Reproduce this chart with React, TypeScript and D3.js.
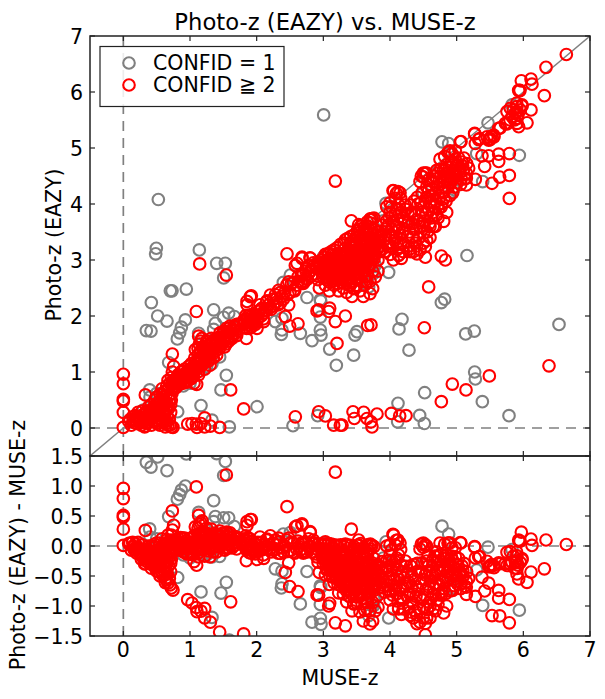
import React from "react";
import * as d3 from "d3";

const grayPoints: [number, number][] = [
[.525,4.08],[3.005,5.59],[.495,3.21],[.485,3.11],[1.14,3.18],[1.4,2.94],[1.53,2.94],[1.505,2.68],[.705,2.45],[.73,2.45],[.945,2.48],[.42,2.24],[.515,2],[.655,1.91],[.93,1.93],[.87,1.8],[.845,1.7],[.81,1.59],[.345,1.74],[.415,1.73],[1.355,2.11],[1.58,2.05],[1.665,1.99],[1.505,1.976],[1.38,1.87],[1.355,1.76],[1.13,1.69],[.68,1.17],[1.33,1.15],[1.445,1.27],[1.545,.94],[1.465,.68],[1.165,.4],[.815,.29],[2.005,.38],[1.33,.14],[1.59,.02],[2.545,.04],[2.915,.22],[.395,.68],[2.505,2.73],[2.755,2.33],[2.955,2.29],[2.955,1.98],[2.28,1.9],[2.38,1.96],[2.37,1.67],[2.38,1.75],[2.655,1.69],[2.83,1.56],[2.955,1.75],[2.965,1.66],[3.095,1.41],[3.195,1.12],
[5.155,3.08],[3.98,2.78],[3.755,2.88],[3.755,2.76],[3.68,2.52],[4.82,2.3],[4.77,2.24],[4.18,1.94],[4.135,1.77],[3.505,1.72],[3.475,1.66],[3.455,1.3],[4.285,1.39],[5.135,1.68],[5.265,1.73],[6.535,1.85],[5.27,1],[5.28,.875],[5.385,.47],[5.785,.22],[4.52,.63],[4.12,.44],[4.115,.11],[4.445,.225],[4.515,.08],
[5.47,5.45],[4.78,5.11],[4.88,5.08],[5.94,4.87],[5.39,4.4],[3.94,4.01],[4.955,4.26],[4.93,4.22],[5.83,5.77],[3.78,2.91],[3.73,2.75],[2.96,2.27],[.3,.32],[.4,.55],[.5,.62],[.6,.45],[.9,.75],[1.0,.8],[1.2,1.05],[1.25,1.1],[1.4,1.55],[2.4,2.6],[3.0,3.05],[3.25,3.1],[3.5,3.4],[3.9,3.7],[4.2,3.75],[4.5,4.2],[4.9,4.4],[5.3,4.9]
];

const redOutliers: [number, number][] = [
[0,.96],[0,.79],[0,.51],[0,.48],[0,.28],[0,.01],[.33,.59],[.735,1.32],[.755,1.1],[.735,1],[1.095,2.08],[1.145,2.93],[1.545,2.73],[1.13,1.64],[1.61,.68],[1.805,.34],[2.58,.2],[2.93,.29],[3.03,.215],[3.155,.05],[3.255,.05],
[.965,.07],[1.03,.08],[1.095,.07],[1.105,.01],[1.165,.08],[1.22,.02],[1.22,.18],[1.305,.035],[1.445,.01],[.33,.035],[.745,.01],
[1.855,2.26],[1.905,2.345],[1.92,2.36],[1.855,2.2],[2.055,2.11],[2.155,2.27],[2.205,2.375],[2.33,2.46],[2.305,2.32],[2.355,2.23],[2.48,2.61],[2.455,3.11],[2.605,2.94],[2.68,3.03],[2.805,3.03],[2.78,2.76],[2.68,2.58],[2.555,2.46],[2.48,2.2],[2.43,1.99],[2.495,1.82],[2.62,1.86],[2.93,2.11],[3.095,2.14],[3.08,2.08],[3.18,1.9],[3.205,1.51],[1.845,1.6],[2.005,1.78],[2.105,1.9],[2.08,2.14],
[3.28,.05],[3.445,.29],[3.465,.17],[3.605,.28],[3.655,.17],[3.715,.11],[3.73,.02],[3.805,.25],[4.02,.26],[4.145,.215],[4.24,.22],[4.77,.47],[4.935,.785],[5.14,.68],[5.49,.93],[6.385,1.11],[4.515,1.79],[3.665,1.83],[3.715,1.84],[3.33,2],[4.58,2.52],[3.74,2.49],[3.655,2.61],[3.43,2.35],[3.455,2.49],[4.77,3.07],[4.83,3],[4.53,3.05],[4.53,3.24],[4.405,3.11],[4.17,3.03],[4.13,3.09],[4.305,3.15],[3.98,3.24],
[6.645,6.67],[6.34,6.44],[6.315,5.935],[5.97,6.2],[6.115,6.23],[6.13,6.14],[5.94,6.02],[5.95,6.03],[6.115,5.68],[6.055,5.45],[5.38,4.86],[5.48,4.86],[5.63,4.89],[5.79,4.9],[5.63,4.76],[5.42,4.67],[5.79,4.51],[5.645,4.48],[5.53,4.37],[5.28,4.44],[5.145,4.34],[5.79,4.1],[5.145,4.46],[5.18,4.64],[5.145,4.55],[3.42,3.7],[4.045,4.24],[4.095,4.19],[3.73,3.74],[4.805,3.69],[4.68,3.6],[4.78,4.01],[4.505,3.48],[3.18,4.41]
];

const redTopEnd: [number, number][] = [
[5.805,5.71],[5.905,5.74],[5.98,5.77],[5.755,5.65],[5.83,5.56],[5.905,5.53],[5.955,5.68],[5.73,5.44],[5.93,5.38],[5.905,5.44],[5.63,5.35],[5.88,5.62],[5.9,5.8],[5.555,5.23],[5.505,5.17],[5.455,5.2],[5.27,5.25],[5.345,5.17],[5.28,5.08],[5.055,5.11],[4.88,4.93],[5.5,5.15],[5.56,5.2],[5.655,5.36],[5.755,5.43],[5.9,5.65],[5.93,6.03],[5.98,5.75],[5.27,5.26],[5.33,5.15],[5.065,5.115],[5.85,5.68],[5.87,5.5],[5.8,5.5],[5.92,5.6],[5.48,5.14],[5.52,5.21]
];

const redLowBlob: [number, number][] = [
[.08,.12],[.1,.15],[.12,.05],[.14,.2],[.16,.1],[.18,.22],[.2,.08],[.2,.18],[.22,.28],[.24,.12],[.25,.2],[.27,.05],[.28,.3],[.3,.14],[.3,.24],[.32,.02],[.35,.18],[.35,.3],[.37,.1],[.38,.38],[.4,.14],[.4,.25],[.42,.05],[.42,.42],[.44,.2],[.45,.32],[.47,.12],[.47,.5],[.48,.25],[.5,.08],[.5,.35],[.5,.55],[.52,.18],[.52,.45],[.54,.28],[.55,.05],[.55,.6],[.57,.15],[.57,.4],[.58,.7],[.6,.1],[.6,.3],[.6,.55],[.62,.2],[.62,.65],[.63,.02],[.65,.12],[.65,.45],[.65,.75],[.67,.05],[.67,.85],[.68,.35],[.7,.05],[.7,.6],[.7,.8],[.72,.02],[.72,.9],[.72,.5],[.74,.7],[.75,.85],
[.15,.14],[.19,.13],[.23,.2],[.26,.15],[.29,.1],[.31,.19],[.33,.27],[.34,.09],[.36,.22],[.39,.17],[.41,.32],[.43,.12],[.44,.28],[.46,.2],[.46,.38],[.49,.14],[.49,.3],[.51,.25],[.51,.42],[.53,.1],[.53,.35],[.56,.22],[.56,.5],[.58,.12],[.59,.38],[.59,.6],[.61,.25],[.61,.48],[.64,.08],[.64,.32],[.64,.58],[.66,.2],[.66,.68],[.69,.15],[.69,.5],[.69,.72],[.71,.28],[.71,.42],[.73,.62],[.73,.8],[.66,.4],[.62,.42]
];

const redMidBand: [number, number][] = [
[.76,.7],[.78,.8],[.8,.75],[.8,.9],[.82,.95],[.84,.78],[.85,.85],[.86,1],[.88,.9],[.9,.8],[.9,.95],[.92,1.05],[.94,.9],[.95,1],[.96,.85],[.98,1.1],[1,.95],[1,1.05],[1.02,.88],[1.02,1.15],[1.04,1],[1.05,1.1],[1.06,.8],[1.07,1.25],[1.08,1.05],[1.08,1.4],[1.1,1.15],[1.1,.78],[1.12,1.3],[1.12,1],[1.14,1.5],[1.14,1.2],[1.16,1.1],[1.16,1.38],[1.18,1.25],[1.18,1.6],[1.2,1.35],[1.2,1.15],[1.22,1.45],[1.25,1.3],[1.25,1.55],[1.28,1.4],[1.28,1.2],[1.3,1.5],[1.3,1.3],[1.32,1.6],[1.35,1.4],[1.35,1.25],[1.38,1.5],[1.4,1.6],[1.42,1.45],[1.45,1.55],[1.45,1.7],[1.48,1.5],[1.5,1.6],[1.5,1.72],[1.52,1.45],[1.55,1.65],[1.55,1.78],[1.58,1.55],[1.6,1.7],[1.6,1.82],[1.63,1.6],[1.65,1.75],[1.68,1.8],[1.7,1.65],[1.72,1.85],
[.77,.85],[.79,.72],[.81,.83],[.83,.88],[.86,.8],[.87,.93],[.89,1.02],[.91,.88],[.93,.97],[.95,.82],[.97,.95],[.99,1.02],[1.01,.9],[1.03,1.07],[1.05,.92],[1.07,1.02],[1.09,1.18],[1.11,1.08],[1.13,.95],[1.15,1.25],[1.15,1.35],[1.17,1.18],[1.19,1.42],[1.21,1.26],[1.23,1.38],[1.24,1.2],[1.26,1.46],[1.27,1.32],[1.29,1.25],[1.31,1.42],[1.33,1.52],[1.34,1.32],[1.36,1.46],[1.37,1.58],[1.39,1.38],[1.41,1.52],[1.43,1.62],[1.44,1.42],[1.46,1.62],[1.47,1.5],[1.49,1.68],[1.51,1.55],[1.53,1.65],[1.54,1.5],[1.56,1.72],[1.57,1.6],[1.59,1.78],[1.61,1.62],[1.62,1.75],[1.64,1.68],[1.66,1.82],[1.67,1.68],[1.69,1.75],[1.7,1.85],[1.22,1.05],[1.3,1.12],[1.4,1.3],[1.12,1.42],[1.16,1.55],
[1.8,1.85],[1.82,1.9],[1.85,1.95],[1.85,1.78],[1.87,2],[1.88,1.85],[1.9,1.92],[1.9,2.02],[1.92,1.8],[1.94,1.95],[1.95,1.88],[1.97,2],[2,2.02],[2,1.9],[1.83,1.8],[1.86,1.88],[1.89,1.78],[1.91,1.98],[1.93,1.88],[1.96,1.94],[1.98,1.85],[2.02,1.96],[1.81,1.93],[1.84,2.01],
[2.05,2.2],[2.1,2.05],[2.1,1.95],[2.15,2.25],[2.2,2.15],[2.25,2.3],[2.3,2.25],[2.35,2.42],[2.4,2.3],[2.45,2.55],[2.5,2.42],[2.55,2.6],[2.6,2.55],[2.62,2.7],[2.66,2.6],[2.7,2.75],[2.72,2.62],[2.78,2.9],[2.8,2.8],[2.85,2.95],[2.88,2.75],[2.9,2.85],[2.92,2.65],[2.94,2.5],[2.905,2.09],[2.68,3.05],[2.8,3.04],[2.58,2.9],
[2.12,2.1],[2.18,2.2],[2.22,2.12],[2.28,2.38],[2.32,2.2],[2.38,2.35],[2.42,2.42],[2.47,2.38],[2.52,2.58],[2.57,2.45],[2.63,2.62],[2.67,2.72],[2.7,2.58],[2.74,2.8],[2.76,2.66],[2.82,2.72],[2.84,2.88],[2.87,2.92],[2.9,2.72],[2.92,2.95],[2.25,2.18],[2.15,2.1],[2.02,2.08],[2.07,2]
];

const redCluster3: [number, number][] = [
[2.97,3],[2.98,2.85],[3,2.95],[3,2.7],[3.02,3.05],[3.02,2.8],[3.03,2.55],[3.05,2.95],[3.05,2.65],[3.06,2.85],[3.07,3.1],[3.08,2.75],[3.09,2.45],[3.1,3],[3.1,2.6],[3.12,2.85],[3.12,2.7],[3.14,3.1],[3.15,2.9],[3.16,2.55],[3.17,2.75],[3.18,3.05],[3.2,2.65],[3.2,2.85],[3.22,2.95],[3.23,2.45],[3.24,3.12],[3.25,2.75],[3.27,2.9],[3.28,2.6],[3.3,3.05],[3.3,2.8],[3.32,3.2],[3.33,2.65],[3.34,2.95],[3.36,2.85],[3.37,3.15],[3.38,2.7],[3.4,3.05],[3.4,2.55],[3.42,2.9],[3.44,3.25],[3.45,2.75],[3.46,3.05],[3.48,2.95],[3.5,3.3],[3.5,2.85],[3.5,2.65],[3.52,3.15],[3.53,3.55],[3.54,2.95],[3.56,3.25],[3.57,2.75],[3.58,3.05],[3.6,3.4],[3.6,2.9],[3.62,3.15],[3.63,2.7],[3.64,3.3],[3.65,3],[3.66,3.5],[3.68,2.85],[3.7,3.2],[3.7,3.4],[3.7,3.72],[3.72,3],[3.74,3.3],[3.75,3.1],[3.76,3.55],[3.78,3.25],[3.8,3.4],[3.82,3],[3.84,3.5],[3.86,3.25],[3.88,3.62],[3.9,3.35],[3.53,3.63],[3.33,3.36],[3.705,3.735],
[2.96,2.92],[2.99,2.78],[3.01,2.88],[3.03,2.98],[3.04,2.75],[3.06,2.92],[3.07,2.68],[3.08,3.02],[3.09,2.8],[3.11,2.92],[3.11,2.72],[3.13,2.98],[3.13,2.78],[3.14,2.62],[3.15,3.02],[3.16,2.82],[3.17,2.95],[3.18,2.68],[3.19,2.88],[3.21,3.02],[3.21,2.75],[3.22,2.58],[3.23,2.88],[3.24,2.68],[3.26,3],[3.26,2.82],[3.27,2.72],[3.28,3.1],[3.29,2.92],[3.31,2.72],[3.31,2.95],[3.32,3.05],[3.33,2.85],[3.35,3.12],[3.35,2.78],[3.36,3],[3.38,2.92],[3.39,3.18],[3.39,2.82],[3.41,2.68],[3.41,3.12],[3.43,3],[3.43,2.82],[3.45,3.15],[3.45,2.92],[3.47,2.82],[3.47,3.22],[3.49,3.08],[3.49,2.75],[3.51,2.95],[3.51,3.4],[3.53,2.85],[3.53,3.22],[3.55,3.08],[3.55,3.42],[3.56,2.85],[3.57,3.15],[3.58,2.95],[3.59,3.3],[3.61,3.05],[3.61,2.8],[3.62,3.45],[3.63,3.25],[3.64,2.92],[3.65,3.12],[3.66,3.35],[3.67,3],[3.67,3.6],[3.68,3.22],[3.69,3.08],[3.7,2.92],[3.71,3.32],[3.72,3.15],[3.73,3.45],[3.74,3.05],[3.75,3.38],[3.76,3.22],[3.77,3.12],[3.78,3.45],[3.79,3.32],[3.8,3.18],[3.81,3.5],[3.83,3.35],[3.85,3.15],[3.87,3.45],[3.89,3.2],
[3,2.82],[3.04,2.88],[3.1,2.8],[3.15,2.72],[3.2,2.95],[3.25,2.88],[3.3,2.65],[3.35,2.95],[3.4,2.78],[3.44,2.95],[3.48,3.1],[3.52,2.75],[3.56,3],[3.6,3.18],[3.64,3.05],[3.68,3.4],[3.72,3.25],[3.76,3.02],
[3.03,3.1],[3.08,3.12],[3.12,3.15],[3.16,3.18],[3.21,3.22],[3.26,3.28],[3.31,3.3],[3.36,3.38],[3.41,3.42],[3.46,3.45],[3.51,3.52],[3.56,3.6],[3.61,3.58],[3.66,3.68],[3.71,3.66],[3.76,3.75],
[3.3,2.5],[3.35,2.6],[3.38,2.55],[3.42,2.62],[3.46,2.5],[3.5,2.55],[3.54,2.7],[3.58,2.62],[3.62,2.55],[3.66,2.72],[3.7,2.62],[3.74,2.8],[3.78,2.7],[3.82,2.8],[3.55,2.45],[3.35,2.42],[3.6,2.35],[3.7,2.4],
[3.6,3.5],[3.4,3.3],[3.45,3.35],[3.55,3.5],[3.65,3.55]
];

const redCluster4: [number, number][] = [
[3.92,3.15],[3.95,3.7],[3.98,3.45],[4,3.25],[4,3.85],[4.02,3.55],[4.05,3],[4.05,3.7],[4.07,3.35],[4.1,3.9],[4.1,3.6],[4.12,3.2],[4.15,3.45],[4.16,4.1],[4.18,3.75],[4.2,3.3],[4.22,3.55],[4.24,3.9],[4.26,3.42],[4.28,3.68],[4.3,3.2],[4.32,3.85],[4.35,3.55],[4.36,4.05],[4.38,3.3],[4.4,3.72],[4.42,4],[4.44,3.4],[4.45,3.6],[4.47,3.85],[4.48,4.2],[4.5,3.3],[4.5,4.55],[4.52,3.7],[4.53,4.05],[4.55,4.3],[4.56,3.5],[4.58,3.9],[4.6,4.15],[4.62,3.75],[4.64,4.4],[4.66,3.95],[4.68,4.2],[4.7,3.8],[4.72,4.55],[4.74,4.1],[4.75,4.35],[4.77,3.95],[4.8,4.6],[4.8,4.2],[4.82,4.45],[4.84,4.05],[4.85,4.7],[4.87,4.3],[4.88,4.55],[4.9,4.15],[4.92,4.75],[4.93,4.45],[4.95,4.6],[4.96,4.3],[4.98,4.8],[5,4.5],[5.02,4.7],[5.04,4.55],[5.06,4.35],[5.08,4.75],[5.1,4.6],[5.12,4.45],[5.15,4.72],[4.13,3.08],[4.53,4.55],[4.055,4.235],[4.12,4.22],
[3.93,3.55],[3.96,3.3],[3.97,3.62],[3.99,3.75],[4.01,3.42],[4.03,3.78],[4.04,3.22],[4.06,3.5],[4.08,3.82],[4.09,3.42],[4.11,3.72],[4.13,3.98],[4.14,3.58],[4.16,3.3],[4.17,3.85],[4.19,3.5],[4.21,3.68],[4.23,3.98],[4.25,3.62],[4.27,3.82],[4.29,3.5],[4.31,3.98],[4.33,3.65],[4.34,3.4],[4.37,3.82],[4.39,3.55],[4.41,4.12],[4.43,3.7],[4.46,4.02],[4.49,3.6],[4.51,3.95],[4.54,3.82],[4.55,4.12],[4.57,4.42],[4.59,3.65],[4.61,4.02],[4.63,4.28],[4.65,3.85],[4.67,4.5],[4.69,4.05],[4.71,4.3],[4.73,3.92],[4.76,4.5],[4.78,4.22],[4.79,4.4],[4.81,4.1],[4.83,4.62],[4.86,4.42],[4.89,4.65],[4.91,4.38],[4.94,4.2],[4.97,4.52],[4.99,4.68],[5.01,4.38],[5.03,4.82],[5.05,4.62],[5.07,4.45],[5.09,4.68],[5.11,4.82],[4.82,4.3],[4.86,4.55],[4.9,4.48],[4.94,4.7],[4.98,4.6],[4.76,4.62],[4.7,4.45],[4.64,4.15],[4.58,4.25],
[3.95,3.95],[4,4.02],[4.08,4.1],[4.15,4.2],[4.02,3.95],[4.45,4.4],[4.5,4.48],[4.55,4.55],[4.47,4.5],[4.75,4.8],[4.82,4.85],[4.87,4.92],[4.9,4.95],[4.93,4.9],[4.98,4.95],[4.7,4.6],
[4.1,3.3],[4.2,3.15],[4.28,3.25],[4.35,3.15],[4.4,3.25],[4.45,3.18],[4.6,3.6],[4.65,3.6],[4.72,3.75],[4.85,3.85],[4.6,3.4],[4.55,3.35],[4,3.1]
];

const redPoints = [...redOutliers, ...redTopEnd, ...redLowBlob, ...redMidBand, ...redCluster3, ...redCluster4];

const topTicks = [0, 1, 2, 3, 4, 5, 6, 7];
const bottomTicks = [-1.5, -1, -0.5, 0, 0.5, 1, 1.5];
const xTicks = [0, 1, 2, 3, 4, 5, 6, 7];
const xDomain: [number, number] = [-0.5, 7];
const topDomain: [number, number] = [-0.5, 7];
const bottomDomain: [number, number] = [-1.5, 1.5];
const GRAY = "#808080";
const RED = "#ff0000";
const FONT = "'DejaVu Sans', sans-serif";
const fmt = (v: number) => (v < 0 ? "\u2212" : "") + Math.abs(v).toFixed(1);

export default function App() {
  const L = 90, R = 590, T1 = 36, B1 = 456, T2 = 456, B2 = 636;
  const x = d3.scaleLinear().domain(xDomain).range([L, R]);
  const y1 = d3.scaleLinear().domain(topDomain).range([B1, T1]);
  const y2 = d3.scaleLinear().domain(bottomDomain).range([B2, T2]);
  const circle = (cx: number, cy: number, c: string, k: string) => (
    <circle key={k} cx={cx} cy={cy} r={5.8} fill="none" stroke={c} strokeWidth={2.1} />
  );
  const lineW = 1.2;
  return (
    <svg width={605} height={699} style={{ position: "fixed", left: 0, top: 0, background: "#fff" }} fontFamily={FONT}>
      <defs>
        <clipPath id="c1"><rect x={L} y={T1} width={R - L} height={B1 - T1} /></clipPath>
        <clipPath id="c2"><rect x={L} y={T2} width={R - L} height={B2 - T2} /></clipPath>
      </defs>
      <g clipPath="url(#c1)">
        <line x1={x(-0.5)} y1={y1(-0.5)} x2={x(7)} y2={y1(7)} stroke={GRAY} strokeWidth={1.4} />
        <line x1={x(0)} x2={x(0)} y1={T1} y2={B1} stroke={GRAY} strokeWidth={1.7} strokeDasharray="10 7" />
        <line x1={L} x2={R} y1={y1(0)} y2={y1(0)} stroke={GRAY} strokeWidth={1.7} strokeDasharray="10 7" />
        {grayPoints.map((p, i) => circle(x(p[0]), y1(p[1]), GRAY, "g" + i))}
        {redPoints.map((p, i) => circle(x(p[0]), y1(p[1]), RED, "r" + i))}
      </g>
      <g clipPath="url(#c2)">
        <line x1={x(0)} x2={x(0)} y1={T2} y2={B2} stroke={GRAY} strokeWidth={1.7} strokeDasharray="10 7" />
        <line x1={L} x2={R} y1={y2(0)} y2={y2(0)} stroke={GRAY} strokeWidth={1.7} strokeDasharray="10 7" />
        {grayPoints.map((p, i) => circle(x(p[0]), y2(p[1] - p[0]), GRAY, "g" + i))}
        {redPoints.map((p, i) => circle(x(p[0]), y2(p[1] - p[0]), RED, "r" + i))}
      </g>
      <rect x={L} y={T1} width={R - L} height={B1 - T1} fill="none" stroke="#222" strokeWidth={lineW + 0.3} />
      <rect x={L} y={T2} width={R - L} height={B2 - T2} fill="none" stroke="#222" strokeWidth={lineW + 0.3} />
      {topTicks.map((t) => (
        <g key={"yt" + t}>
          <line x1={L} x2={L + 5} y1={y1(t)} y2={y1(t)} stroke="#222" strokeWidth={lineW} />
          <line x1={R} x2={R - 5} y1={y1(t)} y2={y1(t)} stroke="#222" strokeWidth={lineW} />
          <text x={L - 7} y={y1(t) + 7.5} fontSize={20.5} textAnchor="end" fill="#000">{t}</text>
        </g>
      ))}
      {bottomTicks.map((t) => (
        <g key={"yb" + t}>
          <line x1={L} x2={L + 5} y1={y2(t)} y2={y2(t)} stroke="#222" strokeWidth={lineW} />
          <line x1={R} x2={R - 5} y1={y2(t)} y2={y2(t)} stroke="#222" strokeWidth={lineW} />
          <text x={L - 7} y={y2(t) + 7.5} fontSize={20.5} textAnchor="end" fill="#000">{fmt(t)}</text>
        </g>
      ))}
      {xTicks.map((t) => (
        <g key={"x" + t}>
          <line x1={x(t)} x2={x(t)} y1={T1} y2={T1 + 5} stroke="#222" strokeWidth={lineW} />
          <line x1={x(t)} x2={x(t)} y1={B1} y2={B1 - 5} stroke="#222" strokeWidth={lineW} />
          <line x1={x(t)} x2={x(t)} y1={T2} y2={T2 + 5} stroke="#222" strokeWidth={lineW} />
          <line x1={x(t)} x2={x(t)} y1={B2} y2={B2 - 5} stroke="#222" strokeWidth={lineW} />
          <text x={x(t)} y={657} fontSize={20.5} textAnchor="middle" fill="#000">{t}</text>
        </g>
      ))}
      <rect x={100} y={46.5} width={184} height={60} fill="#fff" fillOpacity={0.85} stroke="#222" strokeWidth={1.2} />
      <circle cx={129} cy={63} r={5.8} fill="none" stroke={GRAY} strokeWidth={2.1} />
      <circle cx={129} cy={85} r={5.8} fill="none" stroke={RED} strokeWidth={2.1} />
      <text x={153} y={70} fontSize={20.5} fill="#000">CONFID = 1</text>
      <text x={153} y={92} fontSize={20.5} fill="#000">CONFID ≧ 2</text>
      <text x={325} y={30} fontSize={22.7} textAnchor="middle" fill="#000">Photo-z (EAZY) vs. MUSE-z</text>
      <text x={340} y={685} fontSize={20.5} textAnchor="middle" fill="#000">MUSE-z</text>
      <text transform="translate(61,245) rotate(-90)" fontSize={20.5} textAnchor="middle" fill="#000">Photo-z (EAZY)</text>
      <text transform="translate(25,545) rotate(-90)" fontSize={20.5} textAnchor="middle" fill="#000">Photo-z (EAZY) - MUSE-z</text>
    </svg>
  );
}
